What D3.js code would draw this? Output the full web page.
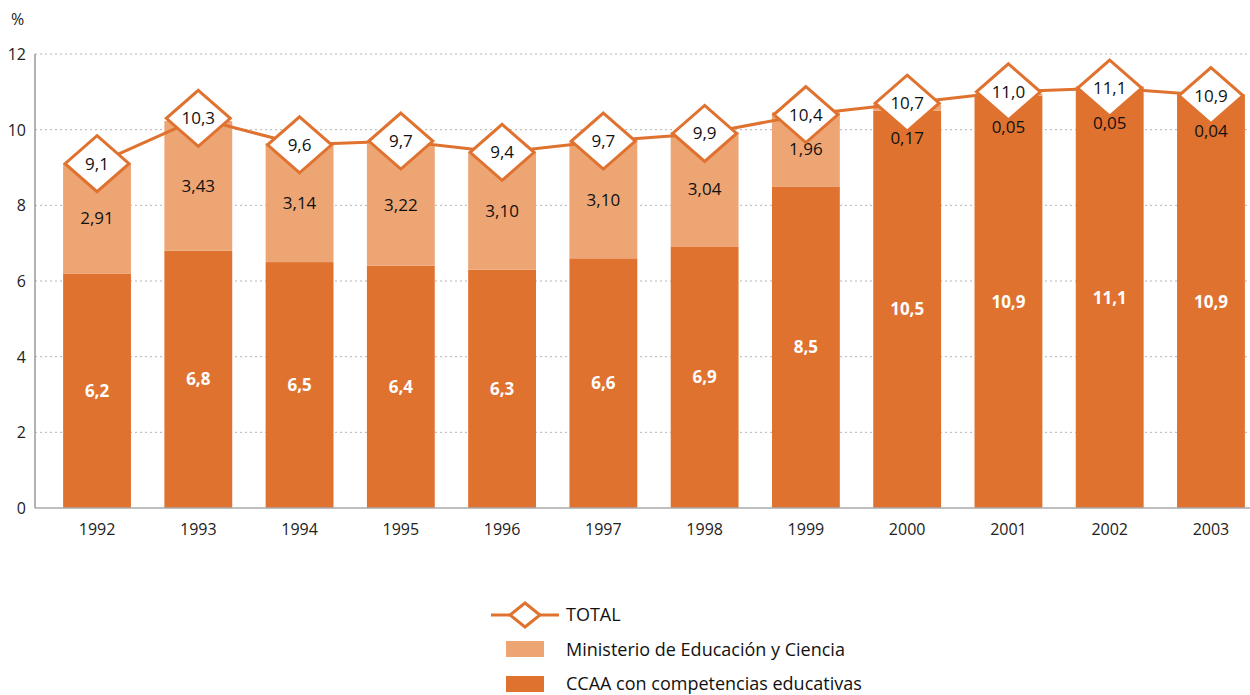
<!DOCTYPE html>
<html>
<head>
<meta charset="utf-8">
<script src="https://cdn.jsdelivr.net/npm/d3@7"></script>
<style>
  body { margin: 0; background: #fff; }
</style>
</head>
<body>
<div id="chart"></div>
<script>
// data
const years = ["1992", "1993", "1994", "1995", "1996", "1997", "1998", "1999", "2000", "2001", "2002", "2003"];
const ccaa = [6.2, 6.8, 6.5, 6.4, 6.3, 6.6, 6.9, 8.5, 10.5, 10.9, 11.1, 10.9];
const mec = [2.91, 3.43, 3.14, 3.22, 3.10, 3.10, 3.04, 1.96, 0.17, 0.05, 0.05, 0.04];
const total = [9.1, 10.3, 9.6, 9.7, 9.4, 9.7, 9.9, 10.4, 10.7, 11.0, 11.1, 10.9];
const yTicks = [0, 2, 4, 6, 8, 10, 12];

const width = 1250, height = 695;
const dark = "#E07230", light = "#EDA574";
const font = "'Open Sans', sans-serif";
const fmt = (v, d) => v.toFixed(d).replace(".", ",");

const svg = d3.select("#chart").append("svg")
    .attr("width", width)
    .attr("height", height);

const x = d3.scaleBand().domain(years).range([46.4, 1261.6]).paddingInner(0.33).paddingOuter(0.165);
const y = d3.scaleLinear().domain([0, 12]).range([508, 54]);

// grid lines
svg.append("g").selectAll("line")
    .data(yTicks.filter(d => d > 0))
    .join("line")
    .attr("x1", 35).attr("x2", 1250)
    .attr("y1", d => y(d)).attr("y2", d => y(d))
    .attr("stroke", "#b5b5b5")
    .attr("stroke-width", 1)
    .attr("stroke-dasharray", "2,3");

// y tick labels
svg.append("g").selectAll("text")
    .data(yTicks)
    .join("text")
    .attr("x", 26)
    .attr("y", d => y(d) + 6)
    .attr("text-anchor", "end")
    .attr("font-family", font)
    .attr("font-size", "16px")
    .attr("fill", "#222")
    .text(d => d);

svg.append("text")
    .attr("x", 11).attr("y", 25)
    .attr("font-family", font)
    .attr("font-size", "16px")
    .attr("fill", "#222")
    .text("%");

// bars CCAA
svg.append("g").selectAll("rect")
    .data(years)
    .join("rect")
    .attr("x", d => x(d))
    .attr("width", x.bandwidth())
    .attr("y", (d, i) => y(ccaa[i]))
    .attr("height", (d, i) => y(0) - y(ccaa[i]))
    .attr("fill", dark);

// bars MEC
svg.append("g").selectAll("rect")
    .data(years)
    .join("rect")
    .attr("x", d => x(d))
    .attr("width", x.bandwidth())
    .attr("y", (d, i) => y(ccaa[i] + mec[i]))
    .attr("height", (d, i) => y(ccaa[i]) - y(ccaa[i] + mec[i]))
    .attr("fill", light);

// axes lines
svg.append("line")
    .attr("x1", 35).attr("x2", 35)
    .attr("y1", y(12)).attr("y2", y(0))
    .attr("stroke", "#999").attr("stroke-width", 1.5);
svg.append("line")
    .attr("x1", 35).attr("x2", 1250)
    .attr("y1", y(0)).attr("y2", y(0))
    .attr("stroke", "#aaa").attr("stroke-width", 1.5);

// x labels
svg.append("g").selectAll("text")
    .data(years)
    .join("text")
    .attr("x", d => x(d) + x.bandwidth() / 2)
    .attr("y", 535)
    .attr("text-anchor", "middle")
    .attr("font-family", font)
    .attr("font-size", "16px")
    .attr("fill", "#222")
    .text(d => d);

// CCAA labels
svg.append("g").selectAll("text")
    .data(years)
    .join("text")
    .attr("x", d => x(d) + x.bandwidth() / 2)
    .attr("y", (d, i) => y(ccaa[i] / 2) + 6)
    .attr("text-anchor", "middle")
    .attr("font-family", font)
    .attr("font-size", "17px")
    .attr("font-weight", "bold")
    .attr("fill", "#fff")
    .text((d, i) => fmt(ccaa[i], 1));

// MEC labels
svg.append("g").selectAll("text")
    .data(years)
    .join("text")
    .attr("x", d => x(d) + x.bandwidth() / 2)
    .attr("y", (d, i) => mec[i] < 1 ? y(total[i]) + 41 : y(ccaa[i] + mec[i] / 2) + 6)
    .attr("text-anchor", "middle")
    .attr("font-family", font)
    .attr("font-size", "17px")
    .attr("fill", "#111")
    .text((d, i) => fmt(mec[i], 2));

// total line
const line = d3.line()
    .x(d => x(d.year) + x.bandwidth() / 2)
    .y(d => y(d.v));
const totalData = years.map((d, i) => ({ year: d, v: total[i] }));

svg.append("path")
    .datum(totalData)
    .attr("d", line)
    .attr("fill", "none")
    .attr("stroke", dark)
    .attr("stroke-width", 3);

const diamond = (w, h) => `M0,${-h}L${w},0L0,${h}L${-w},0Z`;

const marks = svg.append("g").selectAll("g")
    .data(totalData)
    .join("g")
    .attr("transform", d => `translate(${x(d.year) + x.bandwidth() / 2},${y(d.v)})`);

marks.append("path")
    .attr("d", diamond(32, 28))
    .attr("fill", "#fff")
    .attr("stroke", dark)
    .attr("stroke-width", 3);

marks.append("text")
    .attr("y", 6)
    .attr("text-anchor", "middle")
    .attr("font-family", font)
    .attr("font-size", "17px")
    .attr("fill", "#111")
    .text(d => fmt(d.v, 1));

// legend
const lg = svg.append("g");
lg.append("line")
    .attr("x1", 491).attr("x2", 559)
    .attr("y1", 615).attr("y2", 615)
    .attr("stroke", dark).attr("stroke-width", 3);
lg.append("path")
    .attr("transform", "translate(525,615)")
    .attr("d", diamond(15, 12))
    .attr("fill", "#fff")
    .attr("stroke", dark)
    .attr("stroke-width", 3);
lg.append("rect")
    .attr("x", 506).attr("y", 641)
    .attr("width", 38).attr("height", 16)
    .attr("fill", light);
lg.append("rect")
    .attr("x", 506).attr("y", 676)
    .attr("width", 38).attr("height", 16)
    .attr("fill", dark);

const legendLabels = ["TOTAL", "Ministerio de Educación y Ciencia", "CCAA con competencias educativas"];
lg.selectAll("text")
    .data(legendLabels)
    .join("text")
    .attr("x", 566)
    .attr("y", (d, i) => 621 + i * 34.5)
    .attr("font-family", font)
    .attr("font-size", "18px")
    .attr("fill", "#111")
    .text(d => d);
</script>
</body>
</html>
